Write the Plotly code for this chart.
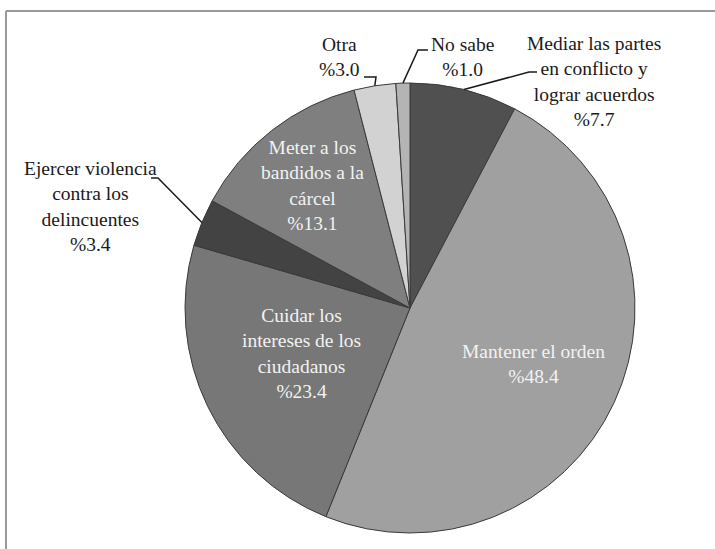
import math
import plotly.graph_objects as go

# Survey answers, in clockwise order from 12 o'clock
categories = [
    "Mediar las partes<br>en conflicto y<br>lograr acuerdos",
    "Mantener el orden",
    "Cuidar los<br>intereses de los<br>ciudadanos",
    "Ejercer violencia<br>contra los<br>delincuentes",
    "Meter a los<br>bandidos a la<br>cárcel",
    "Otra",
    "No sabe",
]
percentages = [7.7, 48.4, 23.4, 3.4, 13.1, 3.0, 1.0]

slice_colors = ["#505050", "#a0a0a0", "#777777", "#434343", "#7f7f7f", "#d2d2d2", "#b4b4b4"]

W, H = 715, 549
CX, CY, R = 410, 308, 225  # pie centre and radius in pixels
FONT = "Liberation Serif"


def px(x):
    return x / W


def py(y):
    return 1 - y / H


fig = go.Figure(
    go.Pie(
        labels=[c.replace("<br>", " ") for c in categories],
        values=percentages,
        sort=False,
        direction="clockwise",
        rotation=0,
        textinfo="none",
        hoverinfo="label+value",
        showlegend=False,
        marker=dict(colors=slice_colors, line=dict(color="#3a3a3a", width=1)),
        domain=dict(x=[px(CX - R), px(CX + R)], y=[py(CY + R), py(CY - R)]),
    )
)

# label placement: centre of text block (px), text colour, elbow points of leader line
label_layout = [
    dict(xy=(594, 82), color="#1a1a1a", elbow=[(537, 72), (529, 72)]),
    dict(xy=(533, 364), color="#f2f2f2", elbow=None),
    dict(xy=(301, 353), color="#f2f2f2", elbow=None),
    dict(xy=(91, 206), color="#1a1a1a", elbow=[(151, 178), (158, 178)]),
    dict(xy=(312, 185), color="#f2f2f2", elbow=None),
    dict(xy=(339, 57), color="#1a1a1a", elbow=[(364, 77), (376, 77)]),
    dict(xy=(462, 57), color="#1a1a1a", elbow=[(428, 50), (418, 50)]),
]

total = sum(percentages)
cum = 0.0
annotations = []
shapes = []
for cat, val, lay in zip(categories, percentages, label_layout):
    mid = (cum + val / 2) / total
    cum += val
    x, y = lay["xy"]
    annotations.append(
        dict(
            x=px(x), y=py(y), xref="paper", yref="paper",
            text=f"{cat}<br>%{val:.1f}",
            showarrow=False, xanchor="center", yanchor="middle",
            font=dict(family=FONT, size=19.5, color=lay["color"]),
        )
    )
    if lay["elbow"]:
        # leader line ends on the rim at the middle of the slice
        theta = 2 * math.pi * mid
        ex, ey = CX + R * math.sin(theta), CY - R * math.cos(theta)
        pts = lay["elbow"] + [(ex, ey)]
        path = "M " + " L ".join(f"{px(a):.5f},{py(b):.5f}" for a, b in pts)
        shapes.append(dict(type="path", path=path, xref="paper", yref="paper",
                           line=dict(color="#1a1a1a", width=1.5)))

# chart frame (top and left edges)
shapes.append(dict(type="line", xref="paper", yref="paper", x0=px(6), y0=py(11), x1=1, y1=py(11),
                   line=dict(color="#9a9a9a", width=2)))
shapes.append(dict(type="line", xref="paper", yref="paper", x0=px(6), y0=py(11), x1=px(6), y1=0,
                   line=dict(color="#9a9a9a", width=2)))

fig.update_layout(
    width=W, height=H,
    margin=dict(l=0, r=0, t=0, b=0),
    paper_bgcolor="white",
    plot_bgcolor="white",
    font=dict(family=FONT),
    annotations=annotations,
    shapes=shapes,
)

fig.write_html("out.html")
